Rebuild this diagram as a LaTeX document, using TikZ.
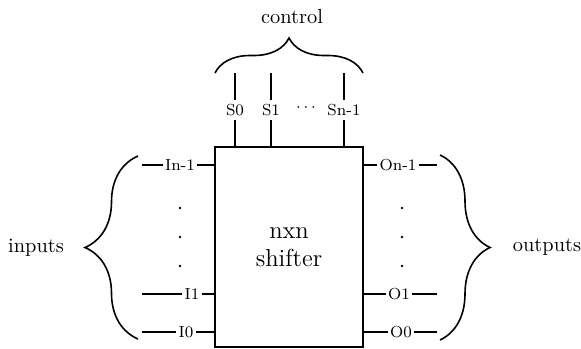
\documentclass[tikz,border=0pt]{standalone}
\usetikzlibrary{decorations.pathreplacing}

\tikzset{
  pinlabel/.style={font=\fontsize{8}{9}\selectfont, inner xsep=1pt, inner ysep=2pt},
  wire/.style={line width=0.6pt},
  curly/.style={decorate, decoration={brace, amplitude=#1}, line width=0.8pt},
  tinydot/.style={circle, fill, inner sep=0pt, minimum size=1.3pt},
  biglabel/.style={font=\fontsize{10.2}{12}\selectfont},
}

\begin{document}
\begin{tikzpicture}[x=0.5pt, y=-0.5pt]
    \useasboundingbox (0,0) rectangle (581,348);

    % the shifter block
    \node[draw, wire, minimum width=74pt, minimum height=100pt, inner sep=0pt] (shifter) at (289,247) {};
    \node[align=center, font=\fontsize{12.3}{14}\selectfont] (blockname) at (shifter.center) {nxn\\shifter};

    % control pins on top
    \foreach \name/\x/\txt in {s0/235/S0, s1/271/S1, sn/344/Sn-1} {
      \node[pinlabel] (\name) at (\x,110) {\txt};
      \coordinate (\name top) at (\x,73);
      \draw[wire] (\name top) -- (\name.north);
      \draw[wire] (\name.south) -- (\name.south |- shifter.north);
    }
    \node[pinlabel] (sdots) at (306,108) {$\cdots$};

    % input pins on the left
    \foreach \name/\x/\y/\txt in {inn/180/165/In-1, i1/192/294/I1, i0/186/332/I0} {
      \node[pinlabel] (\name) at (\x,\y) {\txt};
      \coordinate (\name end) at (142,\y);
      \draw[wire] (\name end) -- (\name.west);
      \draw[wire] (\name.east) -- (\name.east -| shifter.west);
    }
    \foreach \y in {208,237,266}
      \node[tinydot] (ldot\y) at (180,\y) {};

    % output pins on the right
    \foreach \name/\x/\y/\txt in {onn/398/165/On-1, o1/399/294/O1, o0/401/332/O0} {
      \node[pinlabel] (\name) at (\x,\y) {\txt};
      \coordinate (\name end) at (437,\y);
      \draw[wire] (\name.west -| shifter.east) -- (\name.west);
      \draw[wire] (\name.east) -- (\name end);
    }
    \foreach \y in {208,237,266}
      \node[tinydot] (rdot\y) at (402,\y) {};

    % braces and their labels
    \coordinate (ctrlL) at (215,73);
    \coordinate (ctrlR) at (363,73);
    \draw[curly=17.5pt] (ctrlL) -- (ctrlR);
    \node[biglabel] (control) at (292,17) {control};

    \coordinate (inB) at (138,339);
    \coordinate (inT) at (138,156);
    \draw[curly=26.5pt] (inB) -- (inT);
    \node[biglabel] (inputs) at (36,248) {inputs};

    \coordinate (outT) at (440,155);
    \coordinate (outB) at (440,340);
    \draw[curly=25pt] (outT) -- (outB);
    \node[biglabel] (outputs) at (547,247) {outputs};
  \end{tikzpicture}
\end{document}
